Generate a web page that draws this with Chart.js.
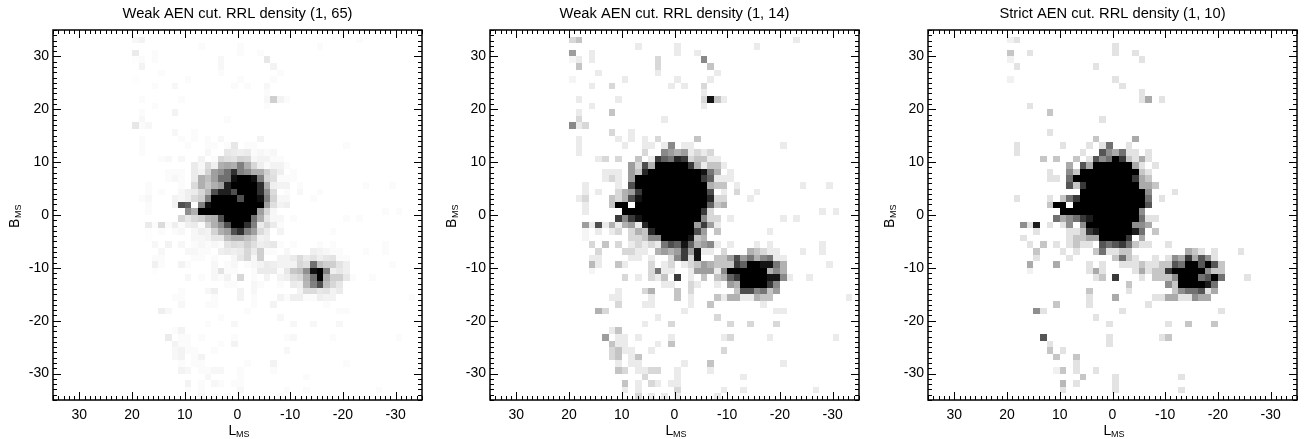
<!DOCTYPE html>
<html>
<head>
<meta charset="utf-8">
<title>RRL density maps</title>
<script src="https://cdn.jsdelivr.net/npm/chart.js@4/dist/chart.umd.min.js"></script>
<style>
html, body { margin: 0; padding: 0; background: #fff; overflow: hidden; }
canvas { position: absolute; top: 0; }
</style>
</head>
<body>
<canvas id="weakWide" width="430" height="439" style="left:0"></canvas>
<canvas id="weakTight" width="430" height="439" style="left:437px"></canvas>
<canvas id="strictTight" width="430" height="439" style="left:875px"></canvas>
<script>
// counts per sky bin
// each line: row (from B=+35 down), first column (from L=+35 going negative), then counts
var weakCells = [
  [1,12,3,4],[1,46,2],
  [2,22,2],[2,28,2],[2,40,2],
  [3,12,6],[3,15,2],[3,28,2],[3,31,2],
  [4,12,1.5,2],[4,15,2],[4,25,3],[4,32,7],
  [5,13,4],[5,25,3],[5,33,4],
  [6,16,2],[6,25,2],[6,34,2],
  [7,12,1.5],[7,20,2],[7,28,2],[7,33,2],
  [8,15,2],[8,18,3],[8,27,2],[8,29,2],[8,32,3],
  [9,32,2],
  [10,13,2],[10,19,2],[10,32,3,13,4,2],
  [11,15,2],[11,32,2],
  [12,13,2],[12,18,4],
  [13,13,3],[13,26,2],
  [14,12,7,2,3],
  [15,18,3],[15,21,2],
  [16,13,2],[16,19,2],[16,21,2],[16,23,2],[16,25,3],[16,31,4],
  [17,13,2],[17,20,2],[17,23,2,2],[17,26,2,7],[17,29,2,2],[17,44,2],
  [18,13,2],[18,23,3],[18,26,7,6,5,6,2,3,2,3],
  [19,16,2,3],[19,19,3],[19,22,4],[19,24,2,11,9,8,12,11,3,4,4,2,2],
  [20,21,6,3,10,5,21,23,21,33,21,11,5,2,4,4,2],
  [21,17,2,2,2],[21,21,6,4,12,25,29,37,53,33,29,21,21,13,8,5],[21,36,2],
  [22,17,2,3,2],[22,21,6,21,17,25,37,37,61,65,65,61,33,11,9,2,2,2],
  [23,14,2],[23,19,2],[23,21,10,21,15,21,25,57,65,65,65,65,53,21,5,4,4],[23,37,2],[23,47,2],[23,51,2],
  [24,14,2],[24,16,2],[24,19,3,5,6,11,19,45,57,57,45,65,65,65,53,29,10],[24,35,2],[24,37,3],[24,40,2],
  [25,13,2,3],[25,18,4,3,5,10,13,33,65,65,65,65,45,65,65,61,33,12,3,3],[25,39,2],
  [26,14,2],[26,18,4,45,41],[26,22,33,61,65,65,65,65,65,65,65,65,25,9,4,5],
  [27,14,2],[27,20,29,21,65,65,65,65,65,65,65,65,65,25,11,3],[27,50,2],[27,52,2],
  [28,19,11,7,11,13,19,21,45,65,65,65,65,37,21,7,3,3],[28,36,2],[28,44,2],[28,46,2],
  [29,14,6,2,10,2,5,2,5,6,2,12,21,29,45,65,65,53,33,6,11,6,2],
  [30,14,1.5],[30,16,2],[30,18,2,3],[30,21,3,5,4,12,21,25,45,53,33,25,10,6],[30,34,4],[30,42,2],
  [31,14,1.5],[31,21,3,3,4,7,7,17,21,21,17,13,4,5],
  [32,15,3],[32,17,4],[32,19,3],[32,21,2,3,2,3,2,8,10,9,13,9,5,6,7,2],[32,36,2],[32,40,2],[32,42,2],[32,50,2],
  [33,16,3],[33,20,3,3,2,2],[33,25,5,6,5,6,11,6,13,2,2],[33,35,3],[33,39,5,4,3,2,2],[33,47,2],[33,50,2],
  [34,15,2,2],[34,21,2,2],[34,24,2],[34,27,3,7,11,3,13],[34,34,4,4,6,10,6,8,5,7,8,2,2],
  [35,15,4.5,2],[35,19,4,2],[35,24,3],[35,26,2,3],[35,29,2,3,4,6,5,4,4,4,11,9,37,17,13,13,8,5],[35,51,2],
  [36,15,1.5],[36,24,3,8,2,2],[36,30,2,6,6,6,2,7,15,17,29,61,65,33,5,7,5],
  [37,20,3],[37,22,2],[37,24,3,2,4],[37,28,11],[37,30,2],[37,32,4],[37,34,4,5,9,11,21,37,65,21,13,13,7,2],[37,48,2],
  [38,26,2,2],[38,30,3,2],[38,34,2],[38,36,6,5,19,33,45,17,11,7],
  [39,19,2],[39,23,3,5],[39,28,4],[39,30,3],[39,37,4,10,10,7,8,4,6],
  [40,18,2,2],[40,24,2],[40,28,4],[40,30,2],[40,34,4,2,5,5,2,2,5,4,4],[40,54,2],
  [41,19,3],[41,23,2,2],[41,30,2],[41,33,4],[41,41,2],
  [42,16,5,3],[42,29,2],[42,43,2,2],
  [43,25,2],[43,34,3],
  [44,23,2],[44,27,3],[44,36,3],[44,39,3],[44,43,3],
  [45,18,2,4],
  [46,17,6],[46,19,2,2],[46,22,2],[46,27,2],[46,35,2,3],[46,42,2],[46,52,2],
  [47,18,4,2,2],[47,25,2],[47,27,4],
  [48,18,3,4,2,2],[48,24,2],[48,35,3],
  [49,18,3,4],[49,21,2,4],
  [50,19,2],[50,21,2,2],[50,29,2],[50,33,4],[50,44,2],
  [51,19,4,3],[51,22,2,2,3,3],[51,28,2],[51,33,2],
  [52,23,3],[52,28,2],[52,38,2],
  [53,20,4],[53,22,2],[53,24,3,2],[53,27,2,2],
  [54,20,2],[54,22,2],[54,28,3],[54,35,2],[54,38,2],[54,49,2],
  [55,22,3],[55,24,2],[55,26,2],[55,28,2],[55,34,2]
];

var strictCells = [
  [1,12,1.5,2],
  [2,28,2],
  [3,12,3],[3,15,2],[3,28,2],[3,31,2],
  [4,12,1.5],[4,32,2],
  [5,13,2],[5,25,2],
  [7,12,1.5],[7,28,2],
  [8,29,2],
  [9,32,2],
  [10,32,2,4],[10,35,2],
  [11,15,2],
  [12,18,3],
  [13,26,2],
  [15,18,2],
  [16,25,3],[16,31,4],
  [17,13,2],[17,20,2],[17,24,2],[17,26,2,6],[17,30,2],
  [18,13,2],[18,23,2],[18,26,7,5,4,6,2,2],[18,33,2],
  [19,17,3],[19,19,3],[19,22,3],[19,24,2,7,5,6,10,8,3,2,4,2],
  [20,21,4],[20,23,7,4,10,10,10,10,10,10,4,2],[20,34,2],
  [21,18,2],[21,21,5,3,10,10,10,10,10,10,10,10,10,3,2],
  [22,18,2,2],[22,21,6,10,10,10,10,10,10,10,10,10,8,4,3],
  [23,21,7,3,8,10,10,10,10,10,10,10,10,4,4,3],
  [24,23,10,10,10,10,10,10,10,10,10,10,5],[24,37,2],
  [25,13,2],[25,18,2],[25,20,3,6,8,10,10,10,10,10,10,10,10,10,10,6],[25,35,2],
  [26,18,3,10,10],[26,22,10,10,10,10,10,10,10,10,10,10,10,7],
  [27,20,10,10,10,10,10,10,10,10,10,10,10,10,5],
  [28,19,6,4,5,6,8,9,10,10,10,10,10,10,10,6,2,2],
  [29,14,5,2,9],[29,18,2],[29,20,2,5],[29,23,5,10,10,10,10,10,10,10,5,5,4],
  [30,16,2],[30,21,2,2,3,8,9,10,10,10,10,10,9,6],[30,34,3],
  [31,14,2],[31,21,2,3,3,4,4,10,10,10,10,8],[31,32,4],
  [32,15,2],[32,17,3],[32,19,2],[32,21,2,3,2,2],[32,26,7,6,7,8,6,3,2,2],[32,36,2],
  [33,16,3],[33,20,2],[33,22,2],[33,25,3,6,2,2,3,3],[33,39,4,3,2],[33,43,2],[33,47,2],
  [34,16,2],[34,21,2],[34,28,3,6,3,2],[34,34,2],[34,36,2,5,4,8,4,7,5,2],
  [35,15,4],[35,19,4],[35,24,2],[35,26,2],[35,29,2,2,2,3,2,2,3,3,7,6,10,10,7,10,7,3],
  [36,15,1.5],[36,24,2,4,2],[36,31,2,4,2,3,3,8,10,10,10,10,10,5,3,3],
  [37,25,2,3],[37,28,8],[37,32,2],[37,34,3,3,3,5,10,10,10,6,7,10,6],[37,48,2],
  [38,30,3],[38,36,5,3,10,10,10,10,9,6],
  [39,24,3],[39,30,2],[39,37,3,5,6,6,7,2,4],
  [40,24,2],[40,28,4],[40,34,2,2,4,4,2,2,5,4,4],
  [41,19,3],[41,24,2],[41,33,2],
  [42,16,5,2],[42,29,2],[42,44,2],
  [43,25,2],
  [44,27,2],[44,36,2],[44,39,3],[44,43,3],
  [46,17,7],[46,27,2],[46,35,2,3],
  [47,18,2],[47,27,2],
  [48,18,3],[48,20,2],
  [49,19,3],[49,22,3],
  [50,22,2],
  [51,19,1.5,3],[51,22,2],[51,25,2],
  [52,23,3],[52,28,2],[52,38,2],
  [53,20,3.5],[53,22,2],[53,28,2],
  [54,20,2],[54,28,2],[54,38,2]
];

var axisLimit = 35;
var binSize = 1.25;
var labelFont = 'Liberation Sans, Arial, sans-serif';

function toPoints(cells) {
  var points = [];
  cells.forEach(function(line) {
    for (var i = 2; i < line.length; i++) {
      points.push({
        x: axisLimit - (line[1] + i - 2 + 0.5) * binSize,
        y: axisLimit - (line[0] + 0.5) * binSize,
        v: line[i]
      });
    }
  });
  return points;
}

function grayFor(v, low, high) {
  var g = Math.round(255 * (high - Math.min(v, high)) / (high - low));
  return 'rgb(' + g + ',' + g + ',' + g + ')';
}

// point elements are placed by the scales; paint them as pixel snapped cells so no seams show
var snappedCells = {
  id: 'snappedCells',
  beforeDatasetDraw: function(chart, args) {
    var ctx = chart.ctx;
    var xs = chart.scales.x, ys = chart.scales.y;
    var halfW = Math.abs(xs.getPixelForValue(binSize) - xs.getPixelForValue(0)) / 2;
    var halfH = Math.abs(ys.getPixelForValue(binSize) - ys.getPixelForValue(0)) / 2;
    args.meta.data.forEach(function(el) {
      var x0 = Math.round(el.x - halfW), x1 = Math.round(el.x + halfW);
      var y0 = Math.round(el.y - halfH), y1 = Math.round(el.y + halfH);
      ctx.fillStyle = el.options.backgroundColor;
      ctx.fillRect(x0, y0, x1 - x0, y1 - y0);
    });
    return false;
  }
};

// inward ticks on all four sides plus the box and the L_MS / B_MS labels
var frameAndLabels = {
  id: 'frameAndLabels',
  afterDatasetsDraw: function(chart) {
    var ctx = chart.ctx, a = chart.chartArea;
    var xs = chart.scales.x, ys = chart.scales.y;
    ctx.save();
    ctx.strokeStyle = '#000';
    ctx.lineWidth = 1;
    ctx.beginPath();
    xs.ticks.forEach(function(t) {
      var px = Math.round(xs.getPixelForValue(t.value)) + 0.5;
      var len = t.value % 10 === 0 ? 8 : 4;
      ctx.moveTo(px, a.bottom); ctx.lineTo(px, a.bottom - len);
      ctx.moveTo(px, a.top); ctx.lineTo(px, a.top + len);
    });
    ys.ticks.forEach(function(t) {
      var py = Math.round(ys.getPixelForValue(t.value)) + 0.5;
      var len = t.value % 10 === 0 ? 8 : 4;
      ctx.moveTo(a.left, py); ctx.lineTo(a.left + len, py);
      ctx.moveTo(a.right, py); ctx.lineTo(a.right - len, py);
    });
    ctx.stroke();
    ctx.lineWidth = 1.5;
    ctx.strokeRect(a.left, a.top, a.right - a.left, a.bottom - a.top);

    ctx.fillStyle = '#000';
    ctx.textBaseline = 'alphabetic';
    ctx.textAlign = 'left';
    var cx = (a.left + a.right) / 2;
    ctx.font = '14px ' + labelFont;
    ctx.fillText('L', cx - 9, 435);
    ctx.font = '9px ' + labelFont;
    ctx.fillText('MS', cx - 1.5, 437);

    ctx.translate(19, (a.top + a.bottom) / 2 + 3);
    ctx.rotate(-Math.PI / 2);
    ctx.font = '14px ' + labelFont;
    ctx.fillText('B', -10, 0);
    ctx.font = '9px ' + labelFont;
    ctx.fillText('MS', 0, 2);
    ctx.restore();
  }
};

function drawPanel(id, heading, cells, high) {
  new Chart(document.getElementById(id), {
    type: 'scatter',
    data: {
      datasets: [{
        data: toPoints(cells),
        pointStyle: 'rect',
        pointRadius: 4.7,
        pointHoverRadius: 4.7,
        pointBorderWidth: 0,
        pointBackgroundColor: function(c) {
          return c.raw ? grayFor(c.raw.v, 1, high) : '#fff';
        }
      }]
    },
    plugins: [snappedCells, frameAndLabels],
    options: {
      responsive: false,
      animation: false,
      events: [],
      layout: { padding: { right: 8 } },
      plugins: {
        legend: { display: false },
        tooltip: { enabled: false },
        title: {
          display: true,
          text: heading,
          fullSize: false,
          color: '#000',
          font: { family: labelFont, size: 14.7, weight: 'normal', lineHeight: 1.2 },
          padding: { top: 5, bottom: 7.36 }
        }
      },
      scales: {
        x: {
          type: 'linear', reverse: true, min: -axisLimit, max: axisLimit,
          grid: { display: false, drawTicks: false }, border: { display: false },
          afterFit: function(s) { s.height = 39; },
          ticks: {
            stepSize: 1, autoSkip: false, maxRotation: 0, padding: 7,
            color: '#000', font: { family: labelFont, size: 14 },
            callback: function(v) { return v % 10 === 0 && Math.abs(v) < axisLimit ? String(v) : ''; }
          }
        },
        y: {
          type: 'linear', min: -axisLimit, max: axisLimit,
          grid: { display: false, drawTicks: false }, border: { display: false },
          afterFit: function(s) { s.width = 53; },
          ticks: {
            stepSize: 1, autoSkip: false, padding: 4,
            color: '#000', font: { family: labelFont, size: 14 },
            callback: function(v) { return v % 10 === 0 && Math.abs(v) < axisLimit ? String(v) : ''; }
          }
        }
      }
    }
  });
}

drawPanel('weakWide', 'Weak AEN cut. RRL density (1, 65)', weakCells, 65);
drawPanel('weakTight', 'Weak AEN cut. RRL density (1, 14)', weakCells, 14);
drawPanel('strictTight', 'Strict AEN cut. RRL density (1, 10)', strictCells, 10);
</script>
</body>
</html>
